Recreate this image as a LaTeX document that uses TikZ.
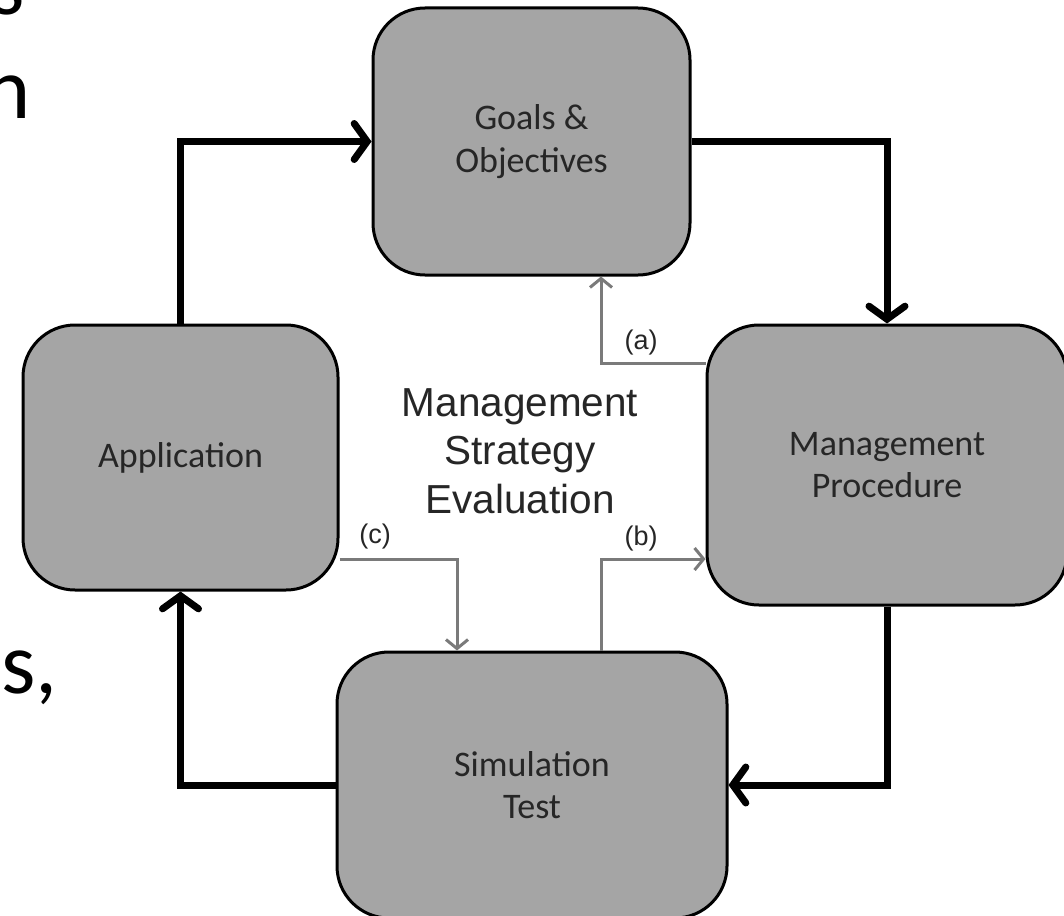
\documentclass[tikz,border=0pt]{standalone}
\usepackage{fontspec}
\setmainfont{Carlito}
\newfontfamily\arialf{Liberation Sans}
\usetikzlibrary{arrows.meta,calc}
\definecolor{boxfill}{HTML}{A5A5A5}
\definecolor{txt}{HTML}{262626}
\definecolor{thin}{HTML}{7A7A7A}
\tikzset{
  stage/.style={draw=black, line width=3pt, fill=boxfill, rounded corners=52pt,
    align=center, text=txt, font=\fontsize{36}{42.5}\selectfont, inner sep=0pt},
  bigarrow/.style={line width=7pt, -{Straight Barb[length=13pt,width=36pt,line cap=round]}},
  smallarrow/.style={draw=thin, line width=3pt, -{Straight Barb[length=9pt,width=22pt]}},
  lbl/.style={font=\arialf\fontsize{27}{30}\selectfont, text=txt, inner sep=0pt},
  slidetxt/.style={font=\fontsize{88}{100}\selectfont, inner sep=0pt, anchor=base east}
}
\begin{document}
\begin{tikzpicture}[x=1pt,y=-1pt]
\clip (0,0) rectangle (1064,915);
\fill[white] (0,0) rectangle (1064,915);
% slide text fragments
\node[slidetxt] (s1) at (25,15) {s};
\node[slidetxt] (s2) at (31,118) {n};
\node[slidetxt] (s3) at (58,693) {es,};
% boxes
\node[stage, minimum width=317pt, minimum height=267pt] (goals) at (531.5,141.5) {Goals \&\\Objectives};
\node[stage, minimum width=315pt, minimum height=265pt] (app) at (180.5,457.5) {Application};
\node[stage, minimum width=360pt, minimum height=280pt] (mp) at (887,465) {Management\\Procedure};
\node[stage, minimum width=390pt, minimum height=266pt] (sim) at (532,785) {Simulation\\Test};
% centre text
\node[font=\arialf\fontsize{40.5}{48.5}\selectfont, text=txt, align=center] (mse) at (520,451) {Management\\Strategy\\Evaluation};
% thick cycle
\draw[bigarrow] (app.north) |- (goals.west);
\draw[bigarrow] (goals.east) -| (mp.north);
\draw[bigarrow] (mp.south) |- (sim.east);
\draw[bigarrow] (sim.west) -| (app.south);
% thin connectors
\coordinate (ka) at (601,363);
\coordinate (kc) at (457,559);
\coordinate (kb) at (601,559);
\draw[smallarrow] (mp.west |- ka) -| (goals.south -| ka);
\draw[smallarrow] (app.east |- kc) -| (sim.north -| kc);
\draw[smallarrow] (sim.north -| kb) |- (mp.west |- kb);
\node[lbl] (la) at (641,343) {(a)};
\node[lbl] (lc) at (375,537) {(c)};
\node[lbl] (lb) at (641,539) {(b)};
\end{tikzpicture}
\end{document}
